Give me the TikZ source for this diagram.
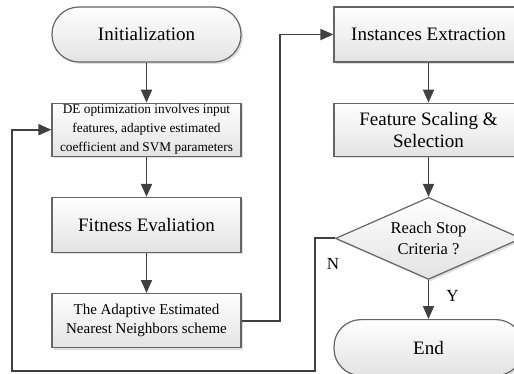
\documentclass[tikz,border=0pt]{standalone}
\usepackage{fontspec}
\setmainfont{Liberation Serif}
\usepackage{tikz}
\usetikzlibrary{positioning}
\usetikzlibrary{shapes.geometric}
\usetikzlibrary{arrows.meta}
\usetikzlibrary{shadows}
\definecolor{linegray}{HTML}{656565}
\definecolor{edgegray}{HTML}{404040}

\begin{document}
\begin{tikzpicture}[x=1pt,y=-1pt]
  \tikzset{
box/.style={draw=linegray,
  line width=1.2pt,
    top color=white, bottom color=gray!22,
    drop shadow={shadow xshift=2pt,shadow yshift=-2pt,opacity=0.25},
    minimum width=189pt,
    minimum height=54pt,
    inner sep=0pt,
    align=center,
    font=\fontsize{19}{22}\selectfont},
term/.style={box, rounded corners=27pt},
test/.style={box, diamond, aspect=2.27, minimum width=186pt, minimum height=82pt,
    font=\fontsize{16.5}{21}\selectfont},
flow/.style={-{Triangle[length=13pt,width=11pt]}, draw=edgegray, line width=1.9pt},
answer/.style={inner sep=0pt, font=\fontsize{17}{20}\selectfont},
}

  \useasboundingbox (0,0) rectangle (514,374);
  \clip (0,0) rectangle (514,374);

  % Nodes
  \node [term, minimum height=55pt] (init) at (146.5,34.5) {Initialization};
  \node [box, below=40pt of init, minimum height=53pt, font=\fontsize{13.3}{19}\selectfont] (deopt) {DE optimization involves input\\features, adaptive estimated\\coefficient and SVM parameters};
  \node [box, below=40pt of deopt, minimum height=55pt] (fitness) {Fitness Evaliation};
  \node [box, below=40pt of fitness, font=\fontsize{15}{19}\selectfont] (aenn) {The Adaptive Estimated\\Nearest Neighbors scheme};
  \node [box, minimum height=55pt] (inst) at (428.5,34.5) {Instances Extraction};
  \node [box, below=40pt of inst, minimum height=53pt] (scaling) {Feature Scaling \&\\Selection};
  \node [test, below=40pt of scaling] (stop) {Reach Stop\\Criteria ?};
  \node [term, below=39pt of stop, minimum height=56pt] (fin) {End};
  \coordinate (loopcorner) at (12,371);

  % Edges
  \draw [flow] (init) -- (deopt);
  \draw [flow] (deopt) -- (fitness);
  \draw [flow] (fitness) -- (aenn);
  \draw [flow] (aenn.east) -- +(38,0) |- (inst.west);
  \draw [flow] (inst) -- (scaling);
  \draw [flow] (scaling) -- (stop);
  \draw [flow] (stop) -- (fin) node [answer, pos=0.4, right=17pt] {Y};
  \draw [flow] (stop.west) -- node [answer, pos=0.1, below=19pt] {N} +(-20,0) |- (loopcorner) |- (deopt.west);
\end{tikzpicture}
\end{document}
